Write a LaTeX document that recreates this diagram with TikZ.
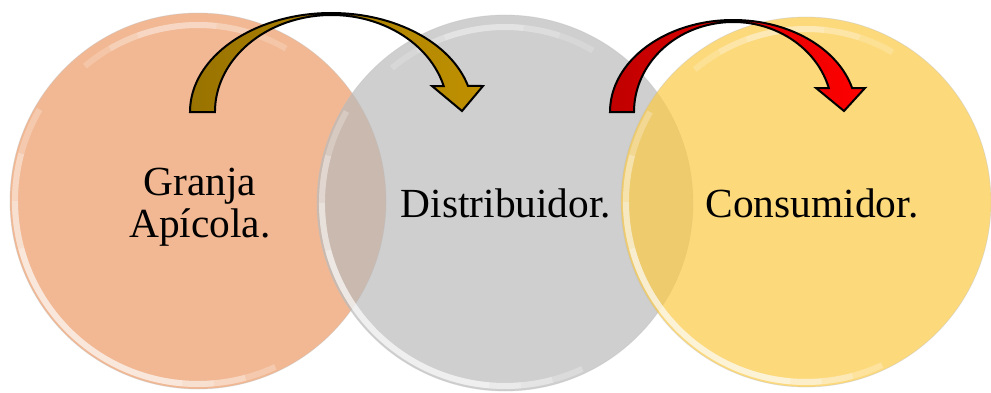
\documentclass[tikz,border=0pt]{standalone}
\usepackage{fontspec}
\setmainfont{Liberation Serif}

\definecolor{granjaC}{RGB}{236,154,102}
\definecolor{distC}{RGB}{186,186,186}
\definecolor{consC}{RGB}{251,202,69}
\definecolor{oroA}{RGB}{153,115,0}
\definecolor{oroB}{RGB}{191,144,0}
\definecolor{rojoA}{RGB}{192,0,0}
\definecolor{rojoB}{RGB}{255,0,0}

\begin{document}
\begin{tikzpicture}[x=1pt, y=1pt,
	bubble/.style={circle, inner sep=0pt, fill opacity=0.7, draw=black!25, draw opacity=0.4, line width=0.8pt},
	txt/.style={font=\fontsize{41.4}{42}\selectfont, align=center, inner sep=0pt},
	rim/.style={white, line width=6pt, opacity=0.25},
	shine/.style={white, line width=6pt, opacity=0.18},
	flecha/.style={draw=black, line width=2pt}]
		
		\useasboundingbox (0,0) rectangle (991,392);
		
		\node[bubble, fill=granjaC, minimum size=376pt] (G) at (198,191) {};
		\node[bubble, fill=distC, minimum size=376pt] (D) at (505,189) {};
		\node[bubble, fill=consC, minimum size=370pt] (C) at (806,190) {};
		
		% soft glass edges
		\foreach \n/\r in {G/188, D/188, C/185} {
			\foreach \a/\b in {150/295, 165/285, 180/275, 195/265} {
				\draw[rim] (\n.center) ++(\a:{\r-5}) arc[start angle=\a, end angle=\b, radius={\r-5}];
			}
			\foreach \a/\b in {60/130, 72/120, 84/110} {
				\draw[shine] (\n.center) ++(\a:{\r-12}) arc[start angle=\a, end angle=\b, radius={\r-12}];
			}
		}
		
		\node[txt] (granja) at (200,184.5) {Granja\\Apícola.};
		\node[txt] (dist) at (506,189) {Distribuidor.};
		\node[txt] (cons) at (812,189) {Consumidor.};
		
		\shadedraw[flecha, left color=oroA, right color=oroB] (190,280) arc[start angle=180, end angle=15.23, x radius=141.5, y radius=99] -- (483,306) -- (462,281) -- (432,306) -- (443.7,306) arc[start angle=15.55, end angle=180, x radius=116.5, y radius=97] -- cycle;
		
		\shadedraw[flecha, left color=rojoA, right color=rojoB] (610,280) arc[start angle=180, end angle=15.12, x radius=123.2, y radius=92] -- (865,304) -- (844,281) -- (816,304) -- (828.8,304) arc[start angle=15.47, end angle=180, x radius=99.2, y radius=90] -- cycle;
	\end{tikzpicture}
\end{document}
